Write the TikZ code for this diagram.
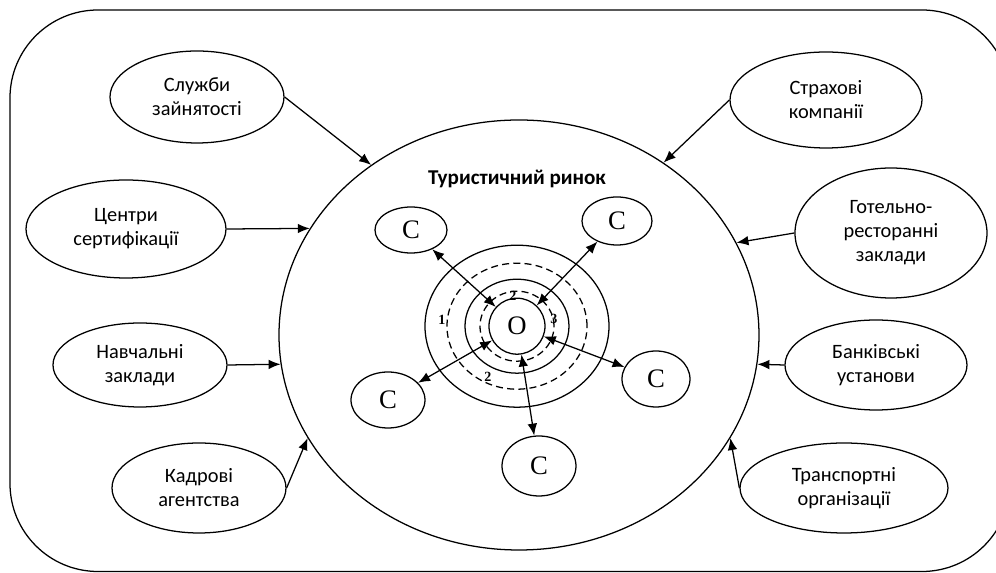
\documentclass[tikz,border=0pt]{standalone}
\usepackage{fontspec}
\setmainfont{Carlito}
\newfontfamily\letterfont{Liberation Serif}
\usetikzlibrary{shapes.geometric,arrows.meta}

\begin{document}
\begin{tikzpicture}[
    line width=0.9pt,
    >={Latex[length=3mm,width=2.4mm]},
    factor/.style={ellipse, draw, align=center, inner sep=0pt, font=\fontsize{14.5}{17}\selectfont},
    cnode/.style={ellipse, draw, inner sep=0pt, font=\letterfont\fontsize{19}{20}\selectfont},
    ringnum/.style={inner sep=0pt, font=\letterfont\bfseries\fontsize{10}{10}\selectfont},
    dashring/.style={dash pattern=on 5pt off 3pt}
  ]
    % Frame
    \useasboundingbox (-12.975,-5.95) rectangle (11.925,8.375);
    \clip (-12.975,-5.95) rectangle (11.925,8.375);
    \draw[rounded corners=2.2cm] (-12.725,-5.9125) rectangle (12.275,8.125);

    % Tourist market
    \node[draw, ellipse, minimum width=12cm, minimum height=10.75cm] (market) at (0,0) {};
    \node[font=\bfseries\fontsize{15}{17}\selectfont] (title) at (-0.05,3.9) {Туристичний ринок};

    % Rings round the firm
    \coordinate (ctr) at (-0.05,0.22);
    \draw (ctr) ellipse (2.3 and 2.025);
    \draw[dashring] (ctr) ellipse (1.75 and 1.575);
    \draw (ctr) ellipse (1.3 and 1.175);
    \draw[dashring] (ctr) ellipse (0.925 and 0.875);
    \node[circle, draw, minimum size=1.4cm, inner sep=0pt, font=\letterfont\fontsize{19}{20}\selectfont] (firm) at (ctr) {O};
    \node[ringnum] (num1) at (-1.925,0.375) {1};
    \node[ringnum] (num2) at (-0.15,0.975) {2};
    \node[ringnum] (num3) at (0.875,0.4) {3};
    \node[ringnum] (num4) at (-0.775,-1.05) {2};

    % Competitors
    \node[cnode, minimum width=1.8cm, minimum height=1.15cm] (c1) at (-2.7,2.625) {C};
    \node[cnode, minimum width=1.75cm, minimum height=1.2cm] (c2) at (2.45,2.85) {C};
    \node[cnode, minimum width=1.85cm, minimum height=1.4cm] (c3) at (-3.275,-1.625) {C};
    \node[cnode, minimum width=1.7cm, minimum height=1.4cm] (c4) at (3.425,-1.1) {C};
    \node[cnode, minimum width=1.85cm, minimum height=1.5cm] (c5) at (0.5,-3.275) {C};

    \draw[<->] (c1) -- (firm);
    \draw[<->] (c2) -- (firm);
    \draw[<->] (c3) -- (firm);
    \draw[<->] (c4) -- (firm);
    \draw[<->] (c5) -- (firm);

    % Left side
    \node[factor, minimum width=4.35cm, minimum height=2.3cm] (sluzhby) at (-8.05,5.95) {Служби\\зайнятості};
    \node[factor, minimum width=5cm, minimum height=2.45cm] (tsentry) at (-9.825,2.65) {Центри\\сертифікації};
    \node[factor, minimum width=4.35cm, minimum height=2.1cm] (navch) at (-9.475,-0.75) {Навчальні\\заклади};
    \node[factor, minimum width=4.35cm, minimum height=2.25cm] (kadry) at (-8.0,-3.825) {Кадрові\\агентства};

    % Right side
    \node[factor, minimum width=4.8cm, minimum height=2.4cm] (strakh) at (7.675,5.875) {Страхові\\компанії};
    \node[factor, minimum width=4.8cm, minimum height=3.25cm] (hotel) at (9.3,2.55) {Готельно-\\ресторанні\\заклади};
    \node[factor, minimum width=4.55cm, minimum height=2.25cm] (bank) at (8.925,-0.75) {Банківські\\установи};
    \node[factor, minimum width=5.2cm, minimum height=2.25cm] (trans) at (8.125,-3.825) {Транспортні\\організації};

    \draw[->] (sluzhby.east) -- (market.131);
    \draw[->] (tsentry.east) -- (market.153);
    \draw[->] (navch.east) -- (market.187);
    \draw[->] (kadry.east) -- (market.206);
    \draw[->] (strakh.west) -- (market.50);
    \draw[->] (hotel.west) -- (market.23);
    \draw[->] (bank.west) -- (market.353);
    \draw[->] (trans.west) -- (market.334);
\end{tikzpicture}
\end{document}
